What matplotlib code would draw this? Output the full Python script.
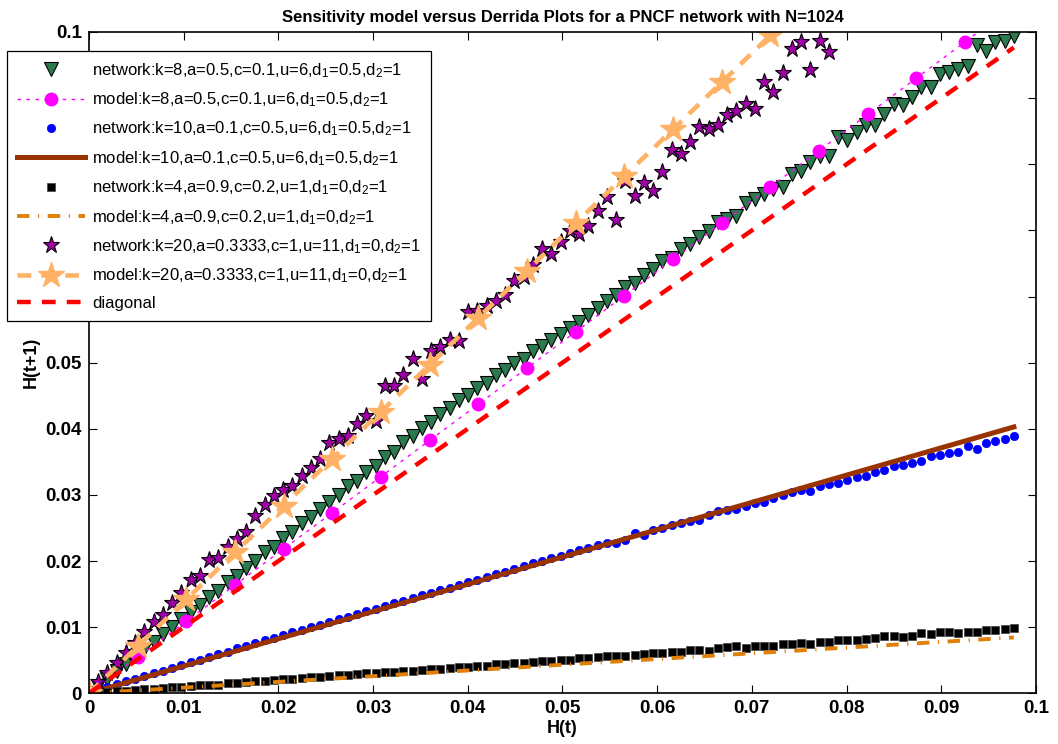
"""Sensitivity model vs Derrida plots for a PNCF network (N=1024)."""
import numpy as np
import matplotlib
matplotlib.use("Agg")
import matplotlib.pyplot as plt

plt.rcParams["font.family"] = ["Liberation Sans", "DejaVu Sans"]
plt.rcParams["mathtext.default"] = "regular"

N = 1024
# Hamming distance 0..100 as fraction of N
h_t = np.arange(101) / N

# model curves evaluated on 20 points
model_h = [0, 0.00514, 0.01028, 0.01542, 0.02056, 0.02570, 0.03084, 0.03598,
           0.04112, 0.04626, 0.05140, 0.05654, 0.06168, 0.06682, 0.07196,
           0.07710, 0.08224, 0.08738, 0.09252, 0.09766]

net_k8 = [0, 0.0011, 0.0022, 0.0034, 0.0045, 0.0056, 0.0067, 0.0078, 0.0090, 0.0100,
          0.0112, 0.0123, 0.0133, 0.0145, 0.0155, 0.0168, 0.0177, 0.0190, 0.0200, 0.0213,
          0.0222, 0.0235, 0.0244, 0.0257, 0.0266, 0.0279, 0.0289, 0.0300, 0.0313, 0.0321,
          0.0334, 0.0344, 0.0357, 0.0365, 0.0380, 0.0389, 0.0401, 0.0410, 0.0423, 0.0431,
          0.0443, 0.0451, 0.0462, 0.0470, 0.0482, 0.0489, 0.0500, 0.0506, 0.0518, 0.0525,
          0.0535, 0.0543, 0.0553, 0.0562, 0.0572, 0.0582, 0.0593, 0.0602, 0.0614, 0.0621,
          0.0632, 0.0641, 0.0653, 0.0659, 0.0672, 0.0680, 0.0690, 0.0699, 0.0712, 0.0717,
          0.0722, 0.0742, 0.0747, 0.0755, 0.0763, 0.0765, 0.0785, 0.0790, 0.0803, 0.0813,
          0.0813, 0.0841, 0.0836, 0.0849, 0.0859, 0.0859, 0.0876, 0.0891, 0.0889, 0.0902,
          0.0917, 0.0917, 0.0937, 0.0940, 0.0944, 0.0949, 0.0980, 0.0972, 0.0985, 0.0987,
          0.0994]
model_k8 = [0, 0.00546, 0.01092, 0.01638, 0.02185, 0.02731, 0.03278, 0.03825,
            0.04372, 0.04919, 0.05467, 0.06014, 0.06562, 0.07110, 0.07658,
            0.08206, 0.08755, 0.09303, 0.09852, 0.10400]

net_k10 = [0, 0.0006, 0.0010, 0.0014, 0.0018, 0.0022, 0.0026, 0.0030, 0.0034, 0.0038,
           0.0043, 0.0047, 0.0051, 0.0055, 0.0059, 0.0063, 0.0068, 0.0071, 0.0076, 0.0080,
           0.0084, 0.0088, 0.0092, 0.0096, 0.0100, 0.0104, 0.0108, 0.0112, 0.0116, 0.0120,
           0.0124, 0.0128, 0.0132, 0.0136, 0.0140, 0.0144, 0.0148, 0.0152, 0.0156, 0.0160,
           0.0164, 0.0168, 0.0172, 0.0176, 0.0180, 0.0184, 0.0188, 0.0192, 0.0197, 0.0200,
           0.0204, 0.0208, 0.0212, 0.0216, 0.0220, 0.0224, 0.0228, 0.0227, 0.0232, 0.0242,
           0.0240, 0.0247, 0.0250, 0.0255, 0.0258, 0.0260, 0.0262, 0.0270, 0.0275, 0.0277,
           0.0279, 0.0284, 0.0288, 0.0289, 0.0296, 0.0300, 0.0304, 0.0308, 0.0306, 0.0314,
           0.0317, 0.0318, 0.0323, 0.0327, 0.0328, 0.0334, 0.0338, 0.0343, 0.0346, 0.0349,
           0.0352, 0.0359, 0.0361, 0.0364, 0.0365, 0.0374, 0.0370, 0.0379, 0.0381, 0.0384,
           0.0389]
model_k10 = [0, 0.00212, 0.00424, 0.00636, 0.00848, 0.01060, 0.01272, 0.01484,
             0.01696, 0.01908, 0.02120, 0.02332, 0.02544, 0.02756, 0.02968,
             0.03180, 0.03392, 0.03604, 0.03816, 0.04028]

net_k4 = [0, 0.0001, 0.0002, 0.0003, 0.0004, 0.0005, 0.0006, 0.0007, 0.0008, 0.0009,
          0.0010, 0.0011, 0.0012, 0.0013, 0.0013, 0.0015, 0.0016, 0.0017, 0.0018, 0.0019,
          0.0020, 0.0021, 0.0021, 0.0023, 0.0024, 0.0025, 0.0026, 0.0027, 0.0028, 0.0029,
          0.0030, 0.0030, 0.0032, 0.0033, 0.0034, 0.0034, 0.0036, 0.0037, 0.0037, 0.0039,
          0.0040, 0.0040, 0.0042, 0.0042, 0.0044, 0.0044, 0.0046, 0.0046, 0.0047, 0.0049,
          0.0049, 0.0051, 0.0051, 0.0053, 0.0054, 0.00555, 0.0056, 0.0056, 0.0056, 0.0058,
          0.0059, 0.0061, 0.0061, 0.0062, 0.0063, 0.0066, 0.0066, 0.0064, 0.0068, 0.0070,
          0.0071, 0.0068, 0.0072, 0.0072, 0.0072, 0.0074, 0.0074, 0.0076, 0.0074, 0.0078,
          0.0077, 0.0080, 0.0081, 0.0081, 0.0082, 0.0083, 0.0087, 0.0087, 0.0085, 0.0086,
          0.0091, 0.0089, 0.0092, 0.0093, 0.0091, 0.0092, 0.0093, 0.0096, 0.0096, 0.0097,
          0.0099]
model_k4 = [0, 0.00044, 0.00089, 0.00133, 0.00178, 0.00222, 0.00267, 0.00311,
            0.00356, 0.00400, 0.00445, 0.00489, 0.00534, 0.00578, 0.00622,
            0.00667, 0.00711, 0.00756, 0.00800, 0.00845]

net_k20 = [0, 0.00176, 0.00303, 0.00455, 0.00606, 0.0076, 0.0093, 0.0108, 0.0118, 0.0136,
           0.0152, 0.0172, 0.0178, 0.0202, 0.0205, 0.0222, 0.0233, 0.0244, 0.0268, 0.0285,
           0.0299, 0.0308, 0.0314, 0.0328, 0.0341, 0.0355, 0.0379, 0.0384, 0.0389, 0.0407,
           0.0419, 0.0412, 0.0465, 0.0465, 0.0482, 0.0505, 0.0476, 0.0518, 0.0523, 0.0535,
           0.0533, 0.0576, 0.0578, 0.0585, 0.0593, 0.0603, 0.0624, 0.0629, 0.0647, 0.0672,
           0.0664, 0.0682, 0.0699, 0.0694, 0.0707, 0.0730, 0.0750, 0.0715, 0.0775, 0.0752,
           0.0772, 0.0760, 0.0789, 0.0821, 0.0816, 0.0834, 0.0856, 0.0854, 0.0860, 0.0874,
           0.0880, 0.0891, 0.0883, 0.0925, 0.0910, 0.0938, 0.0974, 0.0985, 0.0943, 0.0986,
           0.0970]
model_k20 = [0, 0.0071, 0.0142, 0.0213, 0.0284, 0.0355, 0.0426, 0.0497, 0.0568,
             0.0639, 0.0711, 0.0782, 0.0853, 0.0924, 0.0995, 0.1066, 0.1137,
             0.1208, 0.1279, 0.1350]

labels = [
    "network:k=8,a=0.5,c=0.1,u=6,d$_1$=0.5,d$_2$=1",
    "model:k=8,a=0.5,c=0.1,u=6,d$_1$=0.5,d$_2$=1",
    "network:k=10,a=0.1,c=0.5,u=6,d$_1$=0.5,d$_2$=1",
    "model:k=10,a=0.1,c=0.5,u=6,d$_1$=0.5,d$_2$=1",
    "network:k=4,a=0.9,c=0.2,u=1,d$_1$=0,d$_2$=1",
    "model:k=4,a=0.9,c=0.2,u=1,d$_1$=0,d$_2$=1",
    "network:k=20,a=0.3333,c=1,u=11,d$_1$=0,d$_2$=1",
    "model:k=20,a=0.3333,c=1,u=11,d$_1$=0,d$_2$=1",
    "diagonal",
]

ticks = [0, 0.01, 0.02, 0.03, 0.04, 0.05, 0.06, 0.07, 0.08, 0.09, 0.1]
tick_labels = ["0", "0.01", "0.02", "0.03", "0.04", "0.05", "0.06", "0.07", "0.08", "0.09", "0.1"]

fig = plt.figure(figsize=(10.58, 7.44), dpi=100)
ax = fig.add_axes([0.0841, 0.0681, 0.8951, 0.8889])

ax.plot(h_t, net_k8, linestyle="none", marker="v", ms=10, mfc="#2b7a4e",
        mec="black", mew=0.8, label=labels[0])
ax.plot(model_h, model_k8, color="#ff00ff", lw=1.0, linestyle=(0, (2.5, 4)),
        marker="o", ms=8.5, mfc="#ff00ff", mec="#ff00ff", mew=1.5, label=labels[1])
ax.plot(h_t, net_k10, linestyle="none", marker="o", ms=6, mfc="#0000ff",
        mec="#0000ff", mew=0.5, label=labels[2])
ax.plot(model_h, model_k10, color="#993300", lw=3.6, label=labels[3])
ax.plot(h_t, net_k4, linestyle="none", marker="s", ms=5.2, mfc="black",
        mec="#404040", mew=0.5, label=labels[4])
ax.plot(model_h, model_k4, color="#e08008", lw=2.8,
        linestyle=(0, (3.2, 2.2, 0.3, 2.2)), label=labels[5])
ax.plot(h_t[:len(net_k20)], net_k20, linestyle="none", marker="*", ms=12.5,
        mfc="#a000a8", mec="black", mew=0.8, label=labels[6])
ax.plot(model_h, model_k20, color="#ffb266", lw=3.3, linestyle=(0, (3.0, 2.2)),
        marker="*", ms=19, mfc="#ffb266", mec="#ffb266", label=labels[7])
ax.plot(h_t, h_t, color="#ff0000", lw=3.2, linestyle=(0, (3.1, 2.5)), label=labels[8])

ax.set_xlim(0, 0.1)
ax.set_ylim(0, 0.1)
ax.set_xticks(ticks)
ax.set_xticklabels(tick_labels)
ax.set_yticks(ticks)
ax.set_yticklabels(tick_labels)
ax.tick_params(direction="in", length=6, width=0.8, top=True, right=True,
               labelsize=13.5, pad=5)
for lab in ax.get_xticklabels() + ax.get_yticklabels():
    lab.set_fontweight("bold")
for sp in ax.spines.values():
    sp.set_linewidth(1.2)

ax.set_title("Sensitivity model versus Derrida Plots for a PNCF network with N=1024",
             fontsize=12, fontweight="bold", pad=7)
ax.set_xlabel("H(t)", fontsize=13, fontweight="bold", labelpad=2)
ax.set_ylabel("H(t+1)", fontsize=13, fontweight="bold", labelpad=4)

leg = ax.legend(loc="upper left", bbox_to_anchor=(7 / 1058, 1 - 51 / 744),
                bbox_transform=fig.transFigure, borderaxespad=0, fontsize=12,
                numpoints=1, handlelength=4.1, handletextpad=0.4, labelspacing=0.64,
                borderpad=0.6, fancybox=False, framealpha=1, edgecolor="black")
leg.get_frame().set_linewidth(0.9)

fig.savefig("out.png", dpi=100)
